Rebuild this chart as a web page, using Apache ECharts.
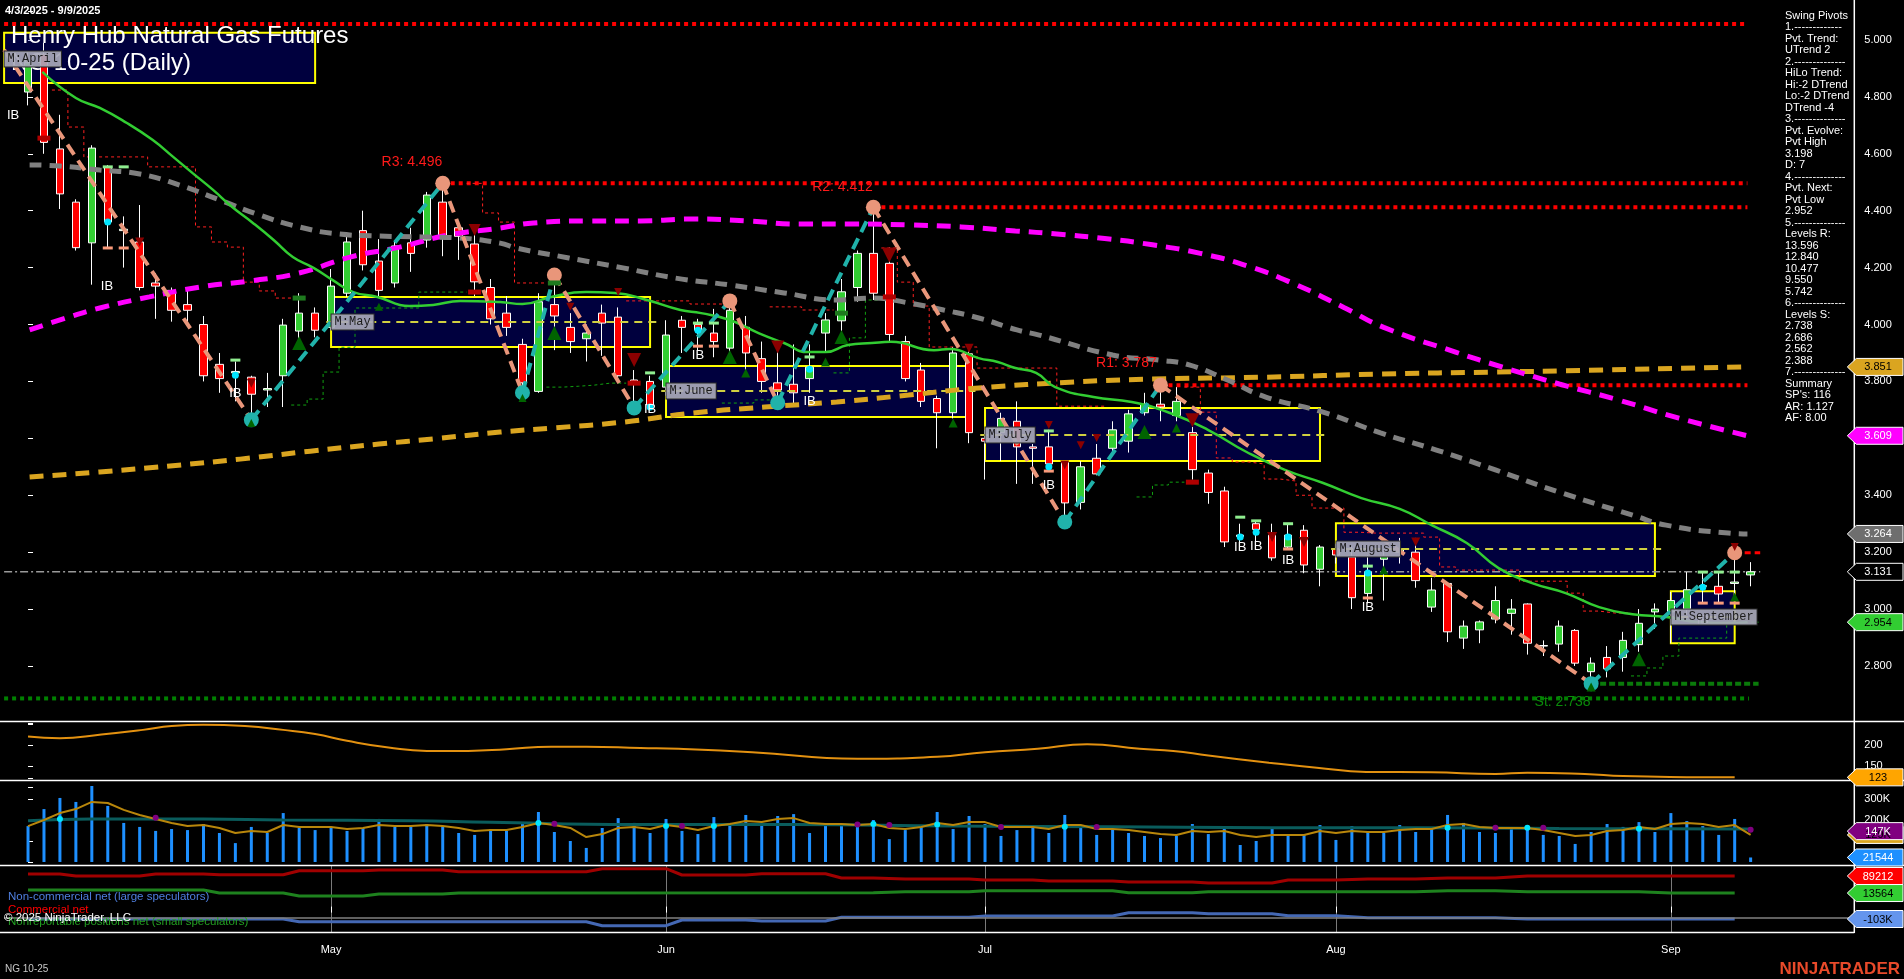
<!DOCTYPE html>
<html>
<head>
<meta charset="utf-8">
<title>Henry Hub Natural Gas Futures NG 10-25 (Daily)</title>
<script src="https://cdn.jsdelivr.net/npm/echarts@6.0.0/dist/echarts.min.js"></script>
<style>
html,body{margin:0;padding:0;background:#000;overflow:hidden;}
#chart{width:1904px;height:979px;}
</style>
</head>
<body>
<div id="chart"></div>
<script>
// ---------------- DATA ----------------
const dates = ['4/3','4/4','4/7','4/8','4/9','4/10','4/11','4/14','4/15','4/16','4/17','4/21','4/22','4/23','4/24','4/25','4/28','4/29','4/30',
'5/1','5/2','5/5','5/6','5/7','5/8','5/9','5/12','5/13','5/14','5/15','5/16','5/19','5/20','5/21','5/22','5/23','5/27','5/28','5/29','5/30',
'6/2','6/3','6/4','6/5','6/6','6/9','6/10','6/11','6/12','6/13','6/16','6/17','6/18','6/20','6/23','6/24','6/25','6/26','6/27','6/30',
'7/1','7/2','7/3','7/7','7/8','7/9','7/10','7/11','7/14','7/15','7/16','7/17','7/18','7/21','7/22','7/23','7/24','7/25','7/28','7/29','7/30','7/31',
'8/1','8/4','8/5','8/6','8/7','8/8','8/11','8/12','8/13','8/14','8/15','8/18','8/19','8/20','8/21','8/22','8/25','8/26','8/27','8/28','8/29',
'9/2','9/3','9/4','9/5','9/8','9/9'];
const monthLabels = {'5/1':'May','6/2':'Jun','7/1':'Jul','8/1':'Aug','9/2':'Sep'};

const opens = [4.817,4.95,4.617,4.43,4.287,4.554,4.33,4.29,4.146,4.12,4.07,4.00,3.86,3.83,3.815,3.77,3.82,3.977,4.04,
3.99,4.11,4.33,4.223,4.146,4.287,4.297,4.43,4.34,4.283,4.13,4.04,3.93,3.765,4.07,3.99,3.95,4.04,4.026,3.805,3.80,
3.78,4.015,4.0,3.97,3.917,3.99,3.88,3.795,3.79,3.81,3.97,4.013,4.13,4.25,4.215,3.94,3.84,3.74,3.69,3.897,
3.60,3.62,3.66,3.57,3.57,3.515,3.375,3.53,3.565,3.59,3.69,3.72,3.68,3.62,3.478,3.415,3.26,3.30,3.26,3.218,3.277,3.14,
3.21,3.183,3.055,3.175,3.20,3.20,3.007,3.09,2.898,2.927,2.965,2.985,3.018,2.87,2.877,2.925,2.78,2.83,2.83,2.875,2.99,
2.99,3.0,3.08,3.08,3.09,3.12];
const closes = [4.92,4.64,4.459,4.27,4.62,4.36,4.335,4.13,4.135,4.05,4.05,3.82,3.81,3.835,3.755,3.775,3.998,4.04,3.98,
4.135,4.29,4.21,4.12,4.276,4.25,4.455,4.31,4.31,4.15,4.02,3.99,3.795,4.08,4.03,3.94,3.97,4.005,3.82,3.79,3.717,
3.963,3.99,3.98,3.94,4.05,3.90,3.80,3.77,3.76,3.85,4.016,4.115,4.25,4.11,3.965,3.81,3.73,3.69,3.90,3.62,
3.59,3.67,3.57,3.565,3.51,3.373,3.50,3.475,3.63,3.686,3.72,3.71,3.73,3.49,3.41,3.236,3.255,3.28,3.18,3.26,3.155,3.218,
3.19,3.04,3.13,3.185,3.21,3.10,3.067,2.92,2.94,2.955,3.03,3.0,2.88,2.872,2.94,2.81,2.81,2.79,2.89,2.95,3.0,
3.03,3.068,3.082,3.053,3.095,3.131];
const highs = [4.96,4.99,4.737,4.44,4.63,4.56,4.38,4.42,4.18,4.13,4.13,4.03,3.90,3.87,3.82,3.83,4.02,4.11,4.06,
4.195,4.32,4.40,4.30,4.29,4.34,4.466,4.496,4.35,4.33,4.16,4.10,3.95,4.11,4.174,4.04,4.00,4.07,4.06,3.84,3.82,
4.015,4.03,4.02,4.055,4.083,4.03,3.94,3.92,3.93,3.93,4.04,4.16,4.26,4.412,4.27,3.96,3.865,3.75,3.92,3.905,
3.63,3.69,3.73,3.58,3.63,3.52,3.52,3.58,3.66,3.70,3.76,3.787,3.78,3.64,3.49,3.43,3.30,3.31,3.30,3.30,3.295,3.225,
3.23,3.22,3.19,3.21,3.25,3.25,3.11,3.09,2.96,2.96,3.08,3.035,3.02,2.89,2.96,2.93,2.83,2.87,2.92,3.0,3.02,
3.06,3.13,3.13,3.13,3.198,3.165];
const lows = [4.77,4.60,4.406,4.26,4.14,4.27,4.20,4.12,4.02,4.01,4.00,3.80,3.76,3.73,3.665,3.71,3.71,3.935,3.955,
3.98,4.097,4.19,4.093,4.13,4.185,4.27,4.24,4.227,4.10,4.00,3.96,3.76,3.76,3.91,3.90,3.87,3.89,3.80,3.707,3.70,
3.75,3.90,3.91,3.885,3.90,3.84,3.76,3.725,3.72,3.76,3.90,3.97,4.08,4.086,3.935,3.80,3.71,3.565,3.67,3.583,
3.455,3.52,3.44,3.44,3.49,3.306,3.35,3.47,3.55,3.55,3.68,3.66,3.66,3.455,3.37,3.218,3.22,3.21,3.17,3.21,3.126,3.08,
3.16,3.0,3.02,3.03,3.16,3.075,2.99,2.884,2.86,2.88,2.95,2.91,2.84,2.835,2.85,2.80,2.738,2.76,2.78,2.85,2.93,
2.88,2.98,3.02,3.02,3.03,3.08];

// volume in thousands
const volumeK = [171,252,305,286,362,267,186,167,148,157,152,181,138,90,167,138,233,162,152,
167,148,162,205,167,167,181,171,138,129,157,148,190,238,143,100,67,162,209,186,138,
205,148,133,214,186,224,186,219,228,138,176,171,176,200,109,152,176,238,157,219,
181,124,152,171,138,224,171,129,157,138,124,114,124,181,133,167,81,100,162,124,129,176,
105,171,143,138,176,143,162,224,186,143,138,157,171,129,124,86,143,181,167,190,143,
233,195,171,129,205,21.544];
const volumeAvgK = [171,200,233,252,286,281,248,224,205,186,171,176,162,138,148,143,176,167,167,
167,157,162,176,171,171,176,171,162,148,152,152,167,186,176,162,119,133,162,167,157,
176,167,152,171,181,195,190,205,209,186,181,181,176,181,162,157,167,186,176,190,
190,167,167,167,157,176,176,157,157,152,143,133,129,148,143,148,129,119,129,129,129,148,
138,148,143,143,152,157,157,176,181,167,162,162,162,152,138,124,129,148,152,167,157,
181,186,181,167,176,129];
const volumeSlowK = [[0,197],[4,205],[11,205],[16,200],[24,197],[29,189],[38,179],[48,179],[58,171],[68,168],[78,163],[87,163],[96,160],[108,157]];
const volCyanDots = [[2,205],[32,186],[40,171],[43,171],[53,181],[57,179],[65,168],[89,163],[94,163],[101,158]];
const volPurpleDots = [[8,211],[33,182],[41,171],[52,178],[54,176],[61,167],[67,167],[92,163],[95,163],[108,154]];

// moving averages: [bar index, price]
const maFast = [[0.9,4.888],[3,4.796],[4.5,4.761],[6.2,4.708],[7.8,4.649],[9.1,4.589],[10.3,4.533],[11.6,4.473],[12.8,4.413],[14.1,4.357],[15.4,4.297],[16.6,4.237],[17.9,4.199],[19.1,4.156],[20.4,4.114],[21.9,4.097],[23.9,4.065],[25.4,4.069],[27.1,4.083],[29.6,4.079],[31,4.072],[32.8,4.097],[35,4.114],[36.8,4.111],[38.8,4.086],[40.9,4.051],[42.2,4.04],[44,4.016],[45.8,3.97],[47.4,3.935],[48.9,3.903],[50,3.903],[51.4,3.928],[52.9,3.935],[54.1,3.939],[56.8,3.91],[57.8,3.914],[59.6,3.882],[60.8,3.868],[61.9,3.847],[63.2,3.83],[64.4,3.78],[66.8,3.745],[69.2,3.728],[71.6,3.689],[74,3.629],[76.4,3.552],[78.8,3.489],[81.2,3.443],[83.6,3.39],[86,3.352],[88,3.295],[90.2,3.232],[92.2,3.144],[94.3,3.091],[96.4,3.056],[98.5,3.007],[100.6,2.982],[102.7,2.972],[104.8,2.954],[106.8,2.951],[107.8,2.954]];
const maMid = [[0.1,4.561],[2,4.557],[4.5,4.543],[7,4.529],[9.5,4.49],[12,4.438],[14.5,4.385],[17,4.343],[19.5,4.318],[22,4.311],[24.6,4.308],[27,4.304],[29.6,4.286],[30.6,4.269],[33.9,4.234],[37.3,4.199],[40.6,4.163],[44,4.139],[47.4,4.111],[50.7,4.086],[52.9,4.093],[55.2,4.076],[57.4,4.051],[59.6,4.023],[62,3.981],[63.4,3.963],[68,3.893],[70.9,3.875],[72.8,3.858],[75.2,3.805],[77.6,3.745],[81.2,3.692],[84.8,3.619],[88.3,3.559],[92,3.489],[96,3.411],[100.6,3.33],[102.7,3.295],[106.6,3.267],[107.8,3.264]];
const maSlow = [[0.1,3.981],[2.4,4.023],[4.5,4.058],[7.6,4.097],[10.8,4.132],[13.9,4.153],[17,4.181],[20.2,4.237],[23.3,4.272],[26.4,4.315],[29.6,4.339],[31.7,4.357],[35,4.364],[38.4,4.364],[41.7,4.371],[45.1,4.364],[48.4,4.353],[51.8,4.353],[55.2,4.35],[58.5,4.343],[61.9,4.329],[64.5,4.318],[67.5,4.302],[70.5,4.28],[73.5,4.25],[76.5,4.205],[79.5,4.14],[82.5,4.06],[85,3.99],[89.5,3.903],[92.4,3.851],[96,3.791],[99.7,3.735],[103.5,3.671],[107.8,3.609]];
const maLong = [[0.1,3.464],[4.5,3.482],[8.9,3.503],[13.3,3.527],[17.7,3.555],[22,3.58],[25.4,3.598],[29.6,3.622],[32.8,3.636],[37.3,3.657],[41.7,3.689],[46.2,3.71],[50.7,3.728],[55.2,3.752],[59.6,3.777],[65.6,3.798],[70.4,3.808],[77.6,3.815],[84.8,3.826],[92,3.833],[96,3.837],[107.8,3.851]];

// swing pivots (bar index, price)
const pivotIdx   = [-1.5, 14, 26, 31, 33, 38, 44, 47, 53, 65, 71, 98, 107];
const pivotPrice = [4.965, 3.665, 4.496, 3.76, 4.174, 3.707, 4.083, 3.725, 4.412, 3.306, 3.787, 2.738, 3.198];

// level lines: price, start index
const resistLevels = [[5.056,-1.5],[4.496,26],[4.412,53],[3.787,71]];
const supportLevel = 2.686;
const swingSupport = [2.738, 98];
const lastPrice = 3.131;
const evolvingHigh = [3.198, 107];

// trailing stop steps: start index + per-bar values
const redStops = [
  [2,[4.824,4.694,4.589,4.589,4.589,4.589,4.554,4.554,4.554,4.343,4.29,4.272,4.149,4.118,4.093]],
  [28,[4.496,4.392,4.36,4.146,4.146]],
  [38,[4.083,4.083,4.083,4.083,4.072,4.072]],
  [47,[4.062,4.062,4.051,4.051]],
  [54,[4.269,4.149,4.065,3.921,3.921,3.921,3.847,3.847,3.847,3.847,3.847,3.713,3.713,3.713]],
  [73,[3.78,3.692,3.531,3.517,3.51,3.457,3.45,3.40,3.355,3.355,3.27,3.267,3.267,3.267,3.267,3.253,3.148,3.137,3.137,3.137,3.137,3.098,3.098,3.098,3.056,2.993,2.986,2.986]]
];
const greenStops = [
  [17,[3.717,3.738,3.833,3.92,4.058,4.058,4.058,4.058,4.114,4.114,4.114]],
  [33,[3.78,3.783,3.787,3.794,3.794]],
  [44,[3.724,3.724,3.735]],
  [51,[3.83,3.953,4.086]],
  [70,[3.394,3.436,3.446]],
  [101,[2.765,2.793,2.835,2.898,2.898,2.898,2.954,2.954]]
];

// markers
const upTriangles = [[14,3.654,8],[17,3.935,14],[22,4.062,8],[31,3.742,8],[33,3.97,14],[44,3.886,14],[45,3.83,9],[50,3.868,9],[51,3.956,14],[58,3.654,9],[70,3.622,14],[72,3.636,9],[85,3.137,9],[98,2.726,9],[101,2.824,14],[107,3.042,9]];
const downTriangles = [[7,4.29,9],[14,3.794,9],[28,4.332,12],[34,4.062,8],[37,4.114,8],[38,3.875,14],[47,3.921,13],[54,4.244,15],[59,3.917,9],[64,3.647,8],[65,3.506,9],[66,3.576,8],[67,3.601,8],[73,3.664,14],[78,3.253,10],[80,3.236,10],[87,3.236,9],[107,3.218,8]];
const greenBars = [[17,4.093],[33,4.146],[51,4.04]];
const redBars = [[1,4.655],[28,4.114],[38,3.794],[54,4.097],[73,3.446]];
const ibLabels = [[-0.94,4.736],[4.95,4.135],[13,3.759],[39,3.70],[42,3.893],[49,3.728],[64,3.436],[76,3.218],[77,3.221],[79,3.172],[84,3.007],[105,2.961]];
const ibDots = [[5,4.36],[13,3.822],[39,3.71],[42,3.98],[49,3.843],[64,3.50],[76,3.253],[77,3.27],[79,3.253],[84,3.127],[105,3.077]];
const ibHighMarks = [[5,4.554],[6,4.554],[13,3.875],[39,3.83],[42,4.005],[43,4.005],[49,3.886],[64,3.626],[76,3.323],[77,3.31],[79,3.30],[84,3.151],[105,3.13],[106,3.13],[107,3.13]];
const ibLowMarks = [[5,4.269],[6,4.269],[42,3.924],[43,3.924],[64,3.485],[79,3.211],[84,3.039],[105,3.021],[106,3.021],[107,3.021]];

// pivot text labels: text, index, price, colour
const pivotTexts = [['R3: 4.496',26,4.57,'#ff1a1a'],['R2: 4.412',53,4.483,'#ff1a1a'],['R1: 3.787',70.8,3.865,'#ff1a1a'],['St: 2.738',98,2.673,'#0a8a0a']];

// monthly boxes
const boxNames = ['M:April','M:May','M:June','M:July','M:August','M:September'];
const boxStart = [-1.5,19,40,60,82,103];
const boxEnd   = [18,39,59,81,102,107];
const boxHigh  = [5.025,4.097,3.854,3.707,3.302,3.063];
const boxLow   = [4.849,3.921,3.675,3.52,3.116,2.88];
const boxMid   = [4.933,4.009,3.766,3.612,3.211,2.972];

// second panel indicator
const panel2 = [[0,220],[2,216],[4.6,225],[7.2,236],[9,245],[11,248],[13.6,245],[16,236],[18,226],[20,210],[22.6,194],[25,186],[27.6,186],[30,190],[32.8,196],[35,196],[38.4,193],[40.8,191],[45.4,183],[52,167],[57,172],[60,183],[63.3,191],[66.4,202],[69.7,191],[71.8,186],[74,175],[77.8,158],[80.8,146],[83.9,136],[88,135],[92,131],[94,134],[97.6,131],[100,126],[104,123.5],[107,123]];

// COT (thousands of contracts)
const cotCommercial = [[0,91.2],[2,91.2],[3,89.2],[7,89.2],[8,91.2],[11,91.2],[12,90.5],[16,90.5],[17,94.5],[21,94.5],[22,95.2],[26,95.2],[27,93.5],[35,93.5],[36,96.5],[40,96.5],[41,90.2],[45,90.2],[46,91.5],[50,91.5],[51,87.2],[53,87.2],[55,86.2],[59,86.2],[60,85.2],[63,85.2],[64,84.2],[68,84.2],[69,83.2],[73,83.2],[74,82.2],[78,82.2],[79,85.2],[82,85.2],[84,86.2],[87,86.2],[89,87.2],[92,87.2],[94,89.2],[107,89.212]];
const cotSmall = [[0,16.6],[11,16.6],[12,13.6],[16,13.6],[17,10.6],[21,10.6],[22,12.6],[26,12.6],[27,13.6],[53,13.9],[55,14.9],[59,14.9],[60,15.9],[68,15.9],[69,13.9],[73,13.9],[74,14.9],[87,14.9],[89,15.9],[92,15.9],[94,14.9],[101,14.9],[103,13.564],[107,13.564]];
const cotLarge = [[0,-103],[16,-103],[17,-108.4],[35,-108.4],[36,-116.4],[40,-116.4],[41,-105],[45,-105],[46,-107],[50,-107],[51,-99.6],[59,-99.6],[60,-97],[68,-97],[69,-90.4],[73,-90.4],[74,-92.4],[78,-92.4],[79,-96.4],[82,-96.4],[84,-100.4],[92,-100.4],[94,-103],[107,-103]];

const pivotPanel = ['Swing Pivots','1.-------------','Pvt. Trend:','UTrend 2','2.--------------','HiLo Trend:','Hi:-2 DTrend','Lo:-2 DTrend','DTrend -4','3.--------------','Pvt. Evolve:','Pvt High','3.198','D: 7','4.--------------','Pvt. Next:','Pvt Low','2.952','5.--------------','Levels R:','13.596','12.840','10.477','9.550','5.742','6.--------------','Levels S:','2.738','2.686','2.562','2.388','7.--------------','Summary',"SP's: 116",'AR: 1.127','AF: 8.00'];

// ---------------- CHART ----------------
const FONT = '"Liberation Sans", Arial, sans-serif';
const cats = ['4/2'].concat(dates, ['9/10','9/11','9/12','9/15','9/16','9/17']);
const GL = 4.1, GR = 49.7;
const XMIN = -1.5, XMAX = 114.5;
const chart = echarts.init(document.getElementById('chart'), null, {renderer:'canvas'});

const candleData = [['-','-','-','-']].concat(dates.map((d,i)=>[opens[i],closes[i],lows[i],highs[i]]));
const volData = ['-'].concat(volumeK);
const isMonth = (i,v) => monthLabels[v] !== undefined;

const S = [];
function line(data, color, width, type, z, xi, yi, smooth){
  return {type:'line', xAxisIndex:xi, yAxisIndex:yi, data:data, symbol:'none', showSymbol:false, smooth:smooth||false, z:z, silent:true,
    lineStyle:{color:color, width:width, type:type, cap:'butt'}};
}
function scat(data, symbol, size, color, z, xi, yi, extra){
  return Object.assign({type:'scatter', xAxisIndex:xi, yAxisIndex:yi, data:data, symbol:symbol, symbolSize:size, z:z, silent:true,
    itemStyle:{color:color, opacity:1}}, extra||{});
}

// levels
resistLevels.forEach(l => S.push(line([[l[1],l[0]],[107.8,l[0]]], '#ff0000', 4, [4,4], 2, 1, 0)));
S.push(line([[XMIN,supportLevel],[107.9,supportLevel]], '#008000', 4, [4,4], 2, 1, 0));
S.push(line([[swingSupport[1],swingSupport[0]],[108.5,swingSupport[0]]], '#0a7a0a', 4, [6,3], 2, 1, 0));
S.push(line([[XMIN,lastPrice],[108.6,lastPrice]], '#9a9a9a', 1.5, [8,3,2,3], 2, 1, 0));
S.push(line([[evolvingHigh[1],evolvingHigh[0]],[108.6,evolvingHigh[0]]], '#ff0000', 3, [6,4], 2, 1, 0));

// stops
function stepData(seg){ const out=[]; seg[1].forEach((v,k)=>{const i=seg[0]+k; out.push([i-0.5,v],[i+0.5,v]);}); return out; }
redStops.forEach(s => S.push(line(stepData(s), '#ff2020', 1, [3,3], 3, 1, 0)));
greenStops.forEach(s => S.push(line(stepData(s), '#10a010', 1, [3,3], 3, 1, 0)));

// candles
S.push({type:'candlestick', xAxisIndex:0, yAxisIndex:0, z:4, silent:true, barWidth:8, data:candleData,
  itemStyle:{color:'#32cd32', color0:'#ff0000', borderColor:'#ffffff', borderColor0:'#ffffff', borderWidth:1}});

// moving averages
S.push(line(maLong, '#daa520', 5, [14,9], 5, 1, 0, true));
S.push(line(maSlow, '#ff00ff', 5, [14,9], 5, 1, 0, true));
S.push(line(maMid, '#808080', 5, [12,8], 5, 1, 0, true));
S.push(line(maFast, '#32cd32', 2.5, 'solid', 5, 1, 0, true));

// zigzag
for (let i=0;i<pivotIdx.length-1;i++){
  const down = pivotPrice[i+1] < pivotPrice[i];
  S.push(line([[pivotIdx[i],pivotPrice[i]],[pivotIdx[i+1],pivotPrice[i+1]]], down?'#e9967a':'#20b2aa', 4, [12,7], 6, 1, 0));
}
const pivH=[], pivL=[];
for (let i=1;i<pivotIdx.length;i++){ (pivotPrice[i] > pivotPrice[i-1] ? pivH : pivL).push([pivotIdx[i],pivotPrice[i]]); }
S.push(scat(pivH, 'circle', 15, '#e9967a', 7, 1, 0));
S.push(scat(pivL, 'circle', 15, '#20b2aa', 7, 1, 0));

// markers
S.push(scat(upTriangles.map(t=>({value:[t[0],t[1]], symbolSize:t[2]})), 'triangle', 10, '#006400', 8, 1, 0));
S.push(scat(downTriangles.map(t=>({value:[t[0],t[1]], symbolSize:t[2]})), 'triangle', 10, '#8b0000', 8, 1, 0, {symbolRotate:180}));
S.push(scat(greenBars, 'rect', [13,5], '#1e7a1e', 8, 1, 0));
S.push(scat(redBars, 'rect', [13,5], '#b00000', 8, 1, 0));
S.push(scat(ibHighMarks, 'rect', [10,3], '#90ee90', 8, 1, 0));
S.push(scat(ibLowMarks, 'rect', [10,3], '#fa9a7a', 8, 1, 0));
S.push(scat(ibDots, 'circle', 7, '#00e5ff', 8, 1, 0));
S.push(scat(ibLabels, 'circle', 1, 'rgba(0,0,0,0)', 9, 1, 0, {label:{show:true, position:'inside', formatter:'IB', color:'#ffffff', fontSize:13, fontFamily:FONT}}));
pivotTexts.forEach(p => S.push(scat([[p[1],p[2]]], 'circle', 1, 'rgba(0,0,0,0)', 9, 1, 0,
  {label:{show:true, position:'left', distance:0, formatter:p[0], color:p[3], fontSize:14, fontFamily:FONT}})));

// monthly boxes (drawn translucent over the price action)
S.push({type:'line', xAxisIndex:1, yAxisIndex:0, data:[], z:20, silent:true,
  markArea:{silent:true, itemStyle:{color:'rgba(0,0,205,0.30)', borderColor:'#ffff00', borderWidth:2},
    data: boxNames.map((n,i)=>[{coord:[boxStart[i],boxHigh[i]]},{coord:[boxEnd[i],boxLow[i]]}])},
  markLine:{silent:true, symbol:['none','none'], label:{show:false}, lineStyle:{color:'#d0d040', width:2, type:[8,6]},
    data: boxNames.map((n,i)=>[{coord:[boxStart[i]-0.3,boxMid[i]]},{coord:[boxEnd[i]+0.4,boxMid[i]]}])}
});
S.push(scat(boxNames.map((n,i)=>({value:[boxStart[i],boxMid[i]], name:n})), 'circle', 1, 'rgba(0,0,0,0)', 21, 1, 0,
  {label:{show:true, position:'right', distance:0, formatter:p=>p.name, color:'#1c1c1c', fontSize:12, fontFamily:'"Liberation Mono", monospace',
    backgroundColor:'rgba(168,168,184,0.92)', borderColor:'#2a2a2a', borderWidth:1, padding:[2,3,1,3]}}));

// panel 2
S.push(line(panel2, '#e39110', 2, 'solid', 5, 3, 1, true));

// volume
S.push({type:'bar', xAxisIndex:4, yAxisIndex:2, data:volData, barWidth:3, silent:true, z:3, itemStyle:{color:'#1e90ff'}});
S.push(line(volumeSlowK, '#0a5c5c', 3, 'solid', 4, 5, 2, true));
S.push(line(volumeAvgK.map((v,i)=>[i,v]), '#b8860b', 2, 'solid', 5, 5, 2, false));
S.push(scat(volCyanDots, 'circle', 6, '#00e5ff', 6, 5, 2));
S.push(scat(volPurpleDots, 'circle', 6, '#800080', 6, 5, 2));

// COT
S.push(line(cotCommercial, '#a00000', 3, 'solid', 4, 7, 3));
S.push(line(cotSmall, '#1e821e', 3, 'solid', 4, 7, 4));
S.push(Object.assign(line(cotLarge, '#4468b4', 3, 'solid', 4, 7, 5), {
  markLine:{silent:true, symbol:['none','none'], label:{show:false}, lineStyle:{color:'#808080', width:1.5, type:'solid'},
    data:[[{coord:[XMIN,-101]},{coord:[XMAX,-101]}]]}}));

const grids = [
  {left:GL, right:GR, top:11.5, height:711.4},
  {left:GL, right:GR, top:724, height:63},
  {left:GL, right:GR, top:778, height:84},
  {left:GL, right:GR, top:866, height:67}
];
const xAxes = [];
grids.forEach((g,gi)=>{
  const visible = gi===3;
  xAxes.push({type:'category', gridIndex:gi, data:cats, boundaryGap:true, show:visible,
    axisLine:{show:false},
    axisTick:{show:visible, interval:isMonth, alignWithLabel:true, length:6, lineStyle:{color:'#ffffff'}},
    axisLabel:{show:visible, interval:isMonth, formatter:v=>monthLabels[v]||'', color:'#ffffff', fontSize:11, fontFamily:FONT, margin:11},
    splitLine:{show:visible, interval:isMonth, alignWithLabel:true, lineStyle:{color:'#7a7a7a', width:1}}});
  xAxes.push({type:'value', gridIndex:gi, min:XMIN, max:XMAX, show:false});
});
const yLabel = {color:'#ffffff', fontSize:11, fontFamily:FONT, margin:10};
const yTick = {show:true, length:5, lineStyle:{color:'#ffffff'}};
const yAxes = [
  {type:'value', gridIndex:0, position:'right', min:2.6, max:5.1, interval:0.2, axisLine:{show:false}, axisTick:yTick, splitLine:{show:false},
    axisLabel:Object.assign({formatter:v=>(v<2.79||v>5.01)?'':v.toFixed(3)}, yLabel)},
  {type:'value', gridIndex:1, position:'right', min:100, max:250, interval:50, axisLine:{show:false}, axisTick:yTick, splitLine:{show:false},
    axisLabel:Object.assign({formatter:v=>(v===150||v===200)?String(v):''}, yLabel)},
  {type:'value', gridIndex:2, position:'right', min:0, max:400, interval:100, axisLine:{show:false}, axisTick:yTick, splitLine:{show:false},
    axisLabel:Object.assign({formatter:v=>(v===200||v===300)?v+'K':''}, yLabel)},
  {type:'value', gridIndex:3, position:'right', min:32.2, max:99.2, show:false},
  {type:'value', gridIndex:3, position:'right', min:-26.4, max:40.6, show:false},
  {type:'value', gridIndex:3, position:'right', min:-131, max:3, show:false}
];

chart.setOption({
  backgroundColor:'#000000', animation:false,
  grid:grids, xAxis:xAxes, yAxis:yAxes, series:S
});

// ---------------- TEXT & FRAME ----------------
const AXX = 1904 - GR;
const G = [];
function txt(x,y,text,fill,font,align,z){ return {type:'text', x:x, y:y, z:z||50, silent:true, style:{text:text, fill:fill, font:font, align:align||'left', verticalAlign:'middle'}}; }
function hline(y,x1,x2){ return {type:'line', z:60, silent:true, shape:{x1:x1,y1:y,x2:x2,y2:y}, style:{stroke:'#ffffff', lineWidth:1.5}}; }

G.push(txt(5,11,'4/3/2025 - 9/9/2025','#ffffff','bold 11px '+FONT,'left',50));
G.push(Object.assign(txt(11,36,'Henry Hub Natural Gas Futures','#ffffff','24px '+FONT,'left'),{z:1}));
G.push(Object.assign(txt(11,63,'NG 10-25 (Daily)','#ffffff','24px '+FONT,'left'),{z:1}));
pivotPanel.forEach((t,i)=>G.push(txt(1785,15.7+i*11.5,t,'#ffffff','11px '+FONT)));
G.push(txt(8,897,'Non-commercial net (large speculators)','#4f7fdf','11.5px '+FONT));
G.push(txt(8,910,'Commercial net','#ff0000','11.5px '+FONT));
G.push(txt(8,922,'Nonreportable positions net (small speculators)','#22a022','11.5px '+FONT));
G.push(txt(4,918,'© 2025 NinjaTrader, LLC','#ffffff','11.5px '+FONT));
G.push(txt(5,969,'NG 10-25','#c8c8c8','10px '+FONT));
G.push(txt(1900,969,'NINJATRADER','#e84a2a','bold 17px '+FONT,'right'));
// panel frame
G.push(hline(721.5,0,1904));
G.push(hline(780.5,0,1904));
G.push(hline(865.5,0,1904));
G.push(hline(932.5,0,AXX));
G.push({type:'line', z:60, silent:true, shape:{x1:AXX,y1:0,x2:AXX,y2:933}, style:{stroke:'#ffffff', lineWidth:1.5}});

// value tags on the right axis, placed through the axes' own scales
const tags = [
  {axis:5, v:cotLarge[cotLarge.length-1][1], text:'-103K', bg:'#6495ed', fg:'#000000'},
  {axis:4, v:cotSmall[cotSmall.length-1][1], text:'13564', bg:'#32cd32', fg:'#000000'},
  {axis:3, v:cotCommercial[cotCommercial.length-1][1], text:'89212', bg:'#ff0000', fg:'#ffffff'},
  {axis:2, v:volumeK[volumeK.length-1], text:'21544', bg:'#1e90ff', fg:'#ffffff'},
  {axis:2, v:volumeAvgK[volumeAvgK.length-1], text:'129K', bg:'#daa520', fg:'#000000'},
  {axis:2, v:147, text:'147K', bg:'#800080', fg:'#ffffff'},
  {axis:1, v:panel2[panel2.length-1][1], text:'123', bg:'#ffa500', fg:'#000000'},
  {axis:0, v:2.954, text:'2.954', bg:'#32cd32', fg:'#000000'},
  {axis:0, v:lastPrice, text:'3.131', bg:'#000000', fg:'#ffffff'},
  {axis:0, v:3.264, text:'3.264', bg:'#6e6e6e', fg:'#ffffff'},
  {axis:0, v:3.609, text:'3.609', bg:'#ff00ff', fg:'#ffffff'},
  {axis:0, v:3.851, text:'3.851', bg:'#daa520', fg:'#000000'}
];
tags.forEach(t=>{
  const y = chart.convertToPixel({yAxisIndex:t.axis}, t.v);
  const h = 8.5, x0 = AXX-7, x1 = AXX+2, x2 = 1903;
  G.push({type:'polygon', z:70, silent:true, shape:{points:[[x0,y],[x1,y-h],[x2,y-h],[x2,y+h],[x1,y+h]]},
    style:{fill:t.bg, stroke:'#ffffff', lineWidth:1}});
  G.push(Object.assign(txt(1878,y+0.5,t.text,t.fg,'11px '+FONT,'center'),{z:71}));
});
chart.setOption({graphic:{elements:G}});
</script>
</body>
</html>
